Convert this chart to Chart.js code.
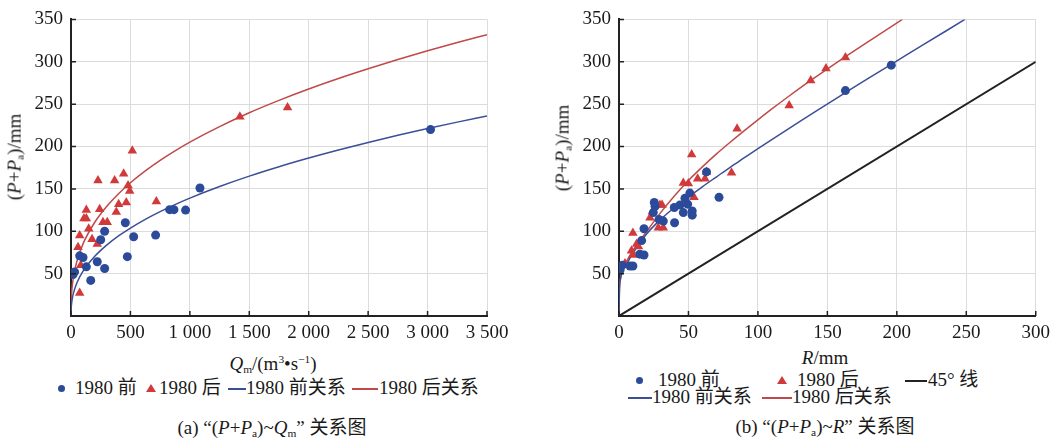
<!DOCTYPE html>
<html>
<head>
<meta charset="utf-8">
<script src="https://cdn.jsdelivr.net/npm/chart.js@4.4.0/dist/chart.umd.min.js"></script>
<style>
  body { margin: 0; width: 1056px; height: 444px; background: #fff; position: relative; overflow: hidden;
         font-family: "Liberation Serif", "Noto Sans CJK SC", serif; color: #1a1a1a; }
  .wrap { position: absolute; top: 0; width: 528px; height: 345px; }
  .lbl { position: absolute; white-space: nowrap; line-height: 20px; }
  .leg { font-size: 19px; }
  .cap { font-size: 19px; transform: translateX(-50%); }
  .ttl { font-size: 19px; transform: translateX(-50%); }
  .ytl { font-size: 19px; transform: translate(-50%, -50%) rotate(-90deg); }
  .dot { position: absolute; width: 7px; height: 7px; border-radius: 50%; background: #2c4a9a; }
  .tri { position: absolute; width: 0; height: 0; border-left: 5px solid transparent; border-right: 5px solid transparent; border-bottom: 8px solid #d03a3a; }
  .seg { position: absolute; height: 1.5px; }
  sub { font-size: 0.6em; vertical-align: -0.25em; }
  sup { font-size: 0.6em; vertical-align: 0.6em; }
</style>
</head>
<body>
<div class="wrap" style="left:0"><canvas id="chartA"></canvas></div>
<div class="wrap" style="left:528px"><canvas id="chartB"></canvas></div>

<!-- axis titles -->
<div class="lbl ytl" style="left:17px;top:157px">(<i>P</i>+<i>P</i><sub>a</sub>)/mm</div>
<div class="lbl ytl" style="left:565px;top:148px">(<i>P</i>+<i>P</i><sub>a</sub>)/mm</div>
<div class="lbl ttl" style="left:273px;top:349px"><i>Q</i><sub>m</sub>/(m<sup>3</sup>•s<sup>−1</sup>)</div>
<div class="lbl ttl" style="left:825px;top:348px"><i>R</i>/mm</div>

<!-- legend (a) -->
<div class="dot" style="left:58px;top:385px"></div>
<div class="lbl leg" style="left:75px;top:378px">1980 前</div>
<div class="tri" style="left:146px;top:384px"></div>
<div class="lbl leg" style="left:159px;top:378px">1980 后</div>
<div class="seg" style="left:228px;top:388px;width:18px;background:#3b4f96"></div>
<div class="lbl leg" style="left:246px;top:378px">1980 前关系</div>
<div class="seg" style="left:352px;top:388px;width:26px;background:#c04a4a"></div>
<div class="lbl leg" style="left:379px;top:378px">1980 后关系</div>

<!-- legend (b) -->
<div class="dot" style="left:636px;top:377px"></div>
<div class="lbl leg" style="left:658px;top:370px">1980 前</div>
<div class="tri" style="left:777px;top:376px"></div>
<div class="lbl leg" style="left:797px;top:370px">1980 后</div>
<div class="seg" style="left:905px;top:380px;width:22px;background:#222"></div>
<div class="lbl leg" style="left:928px;top:370px">45° 线</div>
<div class="seg" style="left:628px;top:397px;width:24px;background:#3b4f96"></div>
<div class="lbl leg" style="left:652px;top:387px">1980 前关系</div>
<div class="seg" style="left:762px;top:397px;width:30px;background:#c04a4a"></div>
<div class="lbl leg" style="left:792px;top:387px">1980 后关系</div>

<!-- captions -->
<div class="lbl cap" style="left:272px;top:418px">(a) “(<i>P</i>+<i>P</i><sub>a</sub>)~<i>Q</i><sub>m</sub>” 关系图</div>
<div class="lbl cap" style="left:825px;top:417px">(b) “(<i>P</i>+<i>P</i><sub>a</sub>)~<i>R</i>” 关系图</div>

<script>
// ---- (a) (P+Pa) ~ Qm ----
const preQ   = [17, 30, 73, 101, 129, 166, 221, 250, 283, 283, 457, 474, 527, 712, 830, 866, 964, 1085, 3025];
const prePaA = [49, 52, 71, 69, 58, 42, 64, 90, 100, 56, 110, 70, 93.5, 95.5, 125.5, 125.5, 125, 151, 220];
const postQ   = [73, 82, 59, 73, 109, 129, 129, 149, 177, 221, 227, 241, 269, 305, 367, 381, 401, 443, 465, 480, 494, 516, 718, 1421, 1822];
const postPaA = [27, 60, 81, 95, 115, 115, 125, 103, 90.5, 85, 160, 126, 110.7, 110.7, 160, 122.7, 132, 168, 134, 154, 147.6, 195, 135, 235, 246];
const fitQ     = [0, 1, 2, 5, 10, 20, 50, 100, 200, 300, 400, 500, 625, 750, 875, 1000, 1250, 1500, 1750, 2000, 2250, 2500, 2750, 3000, 3250, 3500];
const preFitA  = [0, 7.5, 10.1, 14.9, 19.9, 26.7, 39.3, 52.7, 70.5, 83.7, 94.5, 103.8, 114.1, 123.2, 131.5, 139.1, 152.8, 165.1, 176.2, 186.4, 195.9, 204.8, 213.2, 221.2, 228.8, 236];
const postFitA = [0, 14.5, 18.9, 26.8, 35, 45.7, 64.9, 84.8, 110.6, 129.2, 144.3, 157.3, 171.3, 183.7, 194.9, 205.2, 223.5, 239.8, 254.4, 267.8, 280.2, 291.7, 302.6, 312.9, 322.7, 332];
const xTicksA = [0, 500, 1000, 1500, 2000, 2500, 3000, 3500];

// ---- (b) (P+Pa) ~ R ----
const preR   = [0.7, 2.4, 7.9, 10, 15, 16.3, 18, 18, 25.4, 26, 24.7, 28.8, 31.9, 40, 39.8, 43.9, 46.3, 47.5, 49.4, 51, 52.7, 52.7, 63, 72, 163, 196];
const prePaB = [54, 60, 59, 59, 73, 89, 72, 103, 134, 129.5, 122, 114, 112, 110, 128, 131, 122, 139, 132, 145, 119, 124, 170, 140, 266, 296];
const postR   = [4.3, 9, 10, 10, 12.7, 14, 22.3, 24, 29.5, 31, 28.3, 31.9, 46.3, 49.9, 52.3, 54, 56.6, 61.9, 63, 81, 85, 122.5, 138, 149, 163];
const postPaB = [62, 77, 98, 72, 85, 82, 116, 123, 131, 131, 104, 104, 157, 156.5, 190.6, 140, 162, 162, 170, 169, 221, 248.5, 278, 292, 305];
const preFitR  = [0, 0.3, 1, 2.5, 5, 10, 20, 30, 40, 50, 60, 70, 80, 90, 100, 115, 130, 145, 163, 180, 196, 220, 249];
const preFitB  = [0, 30, 43, 52, 60, 74, 97, 114, 128, 140.5, 152.5, 164, 175.5, 186.5, 197.5, 213.5, 229.5, 245, 263.5, 281, 297, 321, 350];
const postFitR = [0, 0.3, 1, 2.5, 5, 10, 20, 30, 40, 50, 60, 70, 80, 90, 100, 111, 122, 138, 150, 163, 180, 204];
const postFitB = [0, 30, 44, 54, 63, 77, 100, 122, 142, 160, 176, 191, 205, 218.5, 231.5, 245.5, 259, 278, 291.5, 306, 324.5, 350];
const lineR45  = [0, 300];
const linePa45 = [0, 300];
const xTicksB = [0, 50, 100, 150, 200, 250, 300];

const yTicks = [0, 50, 100, 150, 200, 250, 300, 350];

const BLUE_PT = '#2c4a9a', RED_PT = '#d03a3a';
const BLUE_LN = '#3b4f96', RED_LN = '#c04a4a';
const FONT = { family: '"Liberation Serif", "Times New Roman", serif', size: 19 };

const pts = (xs, ys) => xs.map((x, i) => ({ x: x, y: ys[i] }));
const spaced = v => String(v).replace(/\B(?=(\d{3})+(?!\d))/g, ' ');

// small tick marks drawn inside the axes
const innerTicks = {
  id: 'innerTicks',
  afterDraw(chart) {
    const { ctx, chartArea: a, scales: { x, y } } = chart;
    ctx.save();
    ctx.strokeStyle = '#222';
    ctx.lineWidth = 1.5;
    ctx.beginPath();
    x.ticks.forEach(t => {
      const px = x.getPixelForValue(t.value);
      ctx.moveTo(px, a.bottom);
      ctx.lineTo(px, a.bottom - 5);
    });
    y.ticks.forEach(t => {
      const py = y.getPixelForValue(t.value);
      ctx.moveTo(a.left, py);
      ctx.lineTo(a.left + 5, py);
    });
    ctx.stroke();
    ctx.restore();
  }
};

function makeChart(id, datasets, xTicks, yWidth, padRight) {
  return new Chart(document.getElementById(id), {
    type: 'scatter',
    data: { datasets: datasets },
    options: {
      responsive: true,
      maintainAspectRatio: false,
      animation: false,
      layout: { padding: { top: 15, right: padRight, left: 0, bottom: 0 } },
      plugins: { legend: { display: false }, tooltip: { enabled: false } },
      scales: {
        x: {
          type: 'linear',
          min: xTicks[0],
          max: xTicks[xTicks.length - 1],
          afterBuildTicks: s => { s.ticks = xTicks.map(v => ({ value: v })); },
          afterFit: s => { s.height = 29; },
          grid: { color: '#dcdcdc', lineWidth: 1, drawTicks: false },
          border: { color: '#222', width: 2 },
          ticks: { font: FONT, color: '#1a1a1a', padding: 6, maxRotation: 0, autoSkip: false, callback: v => spaced(v) }
        },
        y: {
          type: 'linear',
          min: 0,
          max: 350,
          afterBuildTicks: s => { s.ticks = yTicks.map(v => ({ value: v })); },
          afterFit: s => { s.width = yWidth; },
          grid: { color: '#dcdcdc', lineWidth: 1, drawTicks: false },
          border: { color: '#222', width: 2 },
          ticks: { font: FONT, color: '#1a1a1a', padding: 8, callback: v => (v === 0 ? '' : String(v)) }
        }
      }
    },
    plugins: [innerTicks]
  });
}

const scatterPre = d => ({ data: d, pointStyle: 'circle', pointRadius: 4.5, backgroundColor: BLUE_PT, borderColor: BLUE_PT, borderWidth: 0 });
const scatterPost = d => ({ data: d, pointStyle: 'triangle', pointRadius: 5.5, backgroundColor: RED_PT, borderColor: RED_PT, borderWidth: 0 });
const curve = (d, c, w) => ({ data: d, showLine: true, pointRadius: 0, borderColor: c, borderWidth: w, fill: false, cubicInterpolationMode: 'monotone' });

makeChart('chartA', [
  scatterPre(pts(preQ, prePaA)),
  scatterPost(pts(postQ, postPaA)),
  curve(pts(fitQ, preFitA), BLUE_LN, 1.5),
  curve(pts(fitQ, postFitA), RED_LN, 1.5)
], xTicksA, 71, 41);

makeChart('chartB', [
  scatterPre(pts(preR, prePaB)),
  scatterPost(pts(postR, postPaB)),
  curve(pts(preFitR, preFitB), BLUE_LN, 1.5),
  curve(pts(postFitR, postFitB), RED_LN, 1.5),
  curve(pts(lineR45, linePa45), '#222', 2)
], xTicksB, 91, 20);
</script>
</body>
</html>
